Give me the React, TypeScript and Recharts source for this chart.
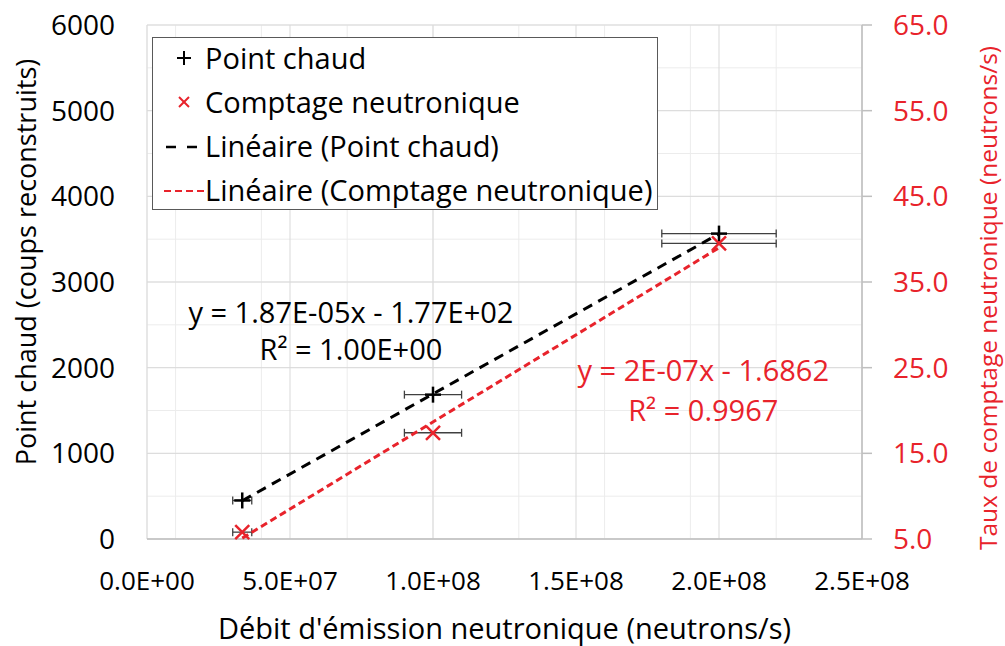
import React from 'react';
import {
  ScatterChart, Scatter, XAxis, YAxis, CartesianGrid, ErrorBar, Legend, ReferenceDot, Label,
} from 'recharts';

// Calibri is not installed, Open Sans is the nearest humanist sans we have.
const FONT = '"Open Sans", "DejaVu Sans", sans-serif';
const RED = '#e8232b';
const AXIS_GREY = '#bfbfbf';
const TEXT_SIZE = 29;

// measured points (x = débit d'émission, neutrons/s)
const emission = [3.33e7, 1.0e8, 2.0e8];
const emissionErr = [3.33e6, 1.0e7, 2.0e7];
const hotSpot = [450, 1685, 3565];          // left axis, coups reconstruits
const neutronCount = [5.8, 17.4, 39.5];     // right axis, neutrons/s

// Excel trendlines, drawn across the measured x range
const trendX = [3.33e7, 2.0e8];
const trendHot = [446, 3563];
const trendCount = [5.1, 39.0];

const xTicks = [0, 5e7, 1e8, 1.5e8, 2e8, 2.5e8];
const xTickLabels = ['0.0E+00', '5.0E+07', '1.0E+08', '1.5E+08', '2.0E+08', '2.5E+08'];
const leftTicks = [0, 1000, 2000, 3000, 4000, 5000, 6000];
const rightTicks = [5, 15, 25, 35, 45, 55, 65];
const xMinorTicks = Array.from({ length: 26 }, (_, i) => i * 1e7);
const yMinorTicks = Array.from({ length: 25 }, (_, i) => i * 250);

const legendItems = [
  { label: 'Point chaud', icon: 'plus' },
  { label: 'Comptage neutronique', icon: 'cross' },
  { label: 'Linéaire (Point chaud)', icon: 'blackDash' },
  { label: 'Linéaire (Comptage neutronique)', icon: 'redDash' },
];

const hotData = emission.map((x, i) => ({ x, y: hotSpot[i], err: emissionErr[i] }));
const countData = emission.map((x, i) => ({ x, y: neutronCount[i], err: emissionErr[i] }));
const hotTrend = trendX.map((x, i) => ({ x, y: trendHot[i] }));
const countTrend = trendX.map((x, i) => ({ x, y: trendCount[i] }));

function PlusMark(props: any) {
  const { cx, cy } = props;
  return (
    <g stroke="#000" strokeWidth={2.5}>
      <line x1={cx - 8} y1={cy} x2={cx + 8} y2={cy} />
      <line x1={cx} y1={cy - 8} x2={cx} y2={cy + 8} />
    </g>
  );
}

function CrossMark(props: any) {
  const { cx, cy } = props;
  return (
    <g stroke={RED} strokeWidth={2.5}>
      <line x1={cx - 7} y1={cy - 7} x2={cx + 7} y2={cy + 7} />
      <line x1={cx - 7} y1={cy + 7} x2={cx + 7} y2={cy - 7} />
    </g>
  );
}

const NoMark = () => <g />;

function LegendIcon({ kind }: { kind: string }) {
  return (
    <svg width={52} height={44} style={{ display: 'block', flex: 'none' }}>
      {kind === 'plus' && (
        <g stroke="#000" strokeWidth={2}>
          <line x1={24} y1={22} x2={38} y2={22} />
          <line x1={31} y1={15} x2={31} y2={29} />
        </g>
      )}
      {kind === 'cross' && (
        <g stroke={RED} strokeWidth={2}>
          <line x1={26} y1={17} x2={36} y2={27} />
          <line x1={26} y1={27} x2={36} y2={17} />
        </g>
      )}
      {kind === 'blackDash' && (
        <line x1={13} y1={23} x2={46} y2={23} stroke="#000" strokeWidth={2.5} strokeDasharray="10 11" />
      )}
      {kind === 'redDash' && (
        <line x1={11} y1={23} x2={52} y2={23} stroke={RED} strokeWidth={2} strokeDasharray="7 4" />
      )}
    </svg>
  );
}

function LegendBox() {
  return (
    <div style={{
      width: 504, height: 171, border: '1px solid #595959', background: '#fff',
      fontFamily: FONT, fontSize: TEXT_SIZE, color: '#000', boxSizing: 'content-box', overflow: 'hidden',
    }}>
      {legendItems.map(it => (
        <div key={it.label} style={{ display: 'flex', alignItems: 'center', height: 44, marginTop: it.icon === 'plus' ? -2 : 0 }}>
          <LegendIcon kind={it.icon} />
          <span style={{ whiteSpace: 'nowrap', lineHeight: '44px' }}>{it.label}</span>
        </div>
      ))}
    </div>
  );
}

function rotatedTitle(text: string, color: string, size: number, dx: number, dy: number) {
  return (props: any) => {
    const vb = props.viewBox || {};
    const x = vb.x + dx;
    const y = vb.y + vb.height / 2 + dy;
    return (
      <text x={x} y={y} transform={`rotate(-90, ${x}, ${y})`} textAnchor="middle" dominantBaseline="central"
        fill={color} fontFamily={FONT} fontSize={size}>
        {text}
      </text>
    );
  };
}

export default function App() {
  return (
    <div style={{ position: 'absolute', left: 0, top: 0, width: 1005, height: 646, background: '#fff' }}>
      <ScatterChart width={1005} height={646} margin={{ top: 25, right: 0, bottom: 0, left: 0 }}>
        <CartesianGrid xAxisId="xMinor" yAxisId="yMinor" stroke="#ececec" strokeWidth={1} />
        <CartesianGrid xAxisId="x" yAxisId="left" stroke="#d9d9d9" strokeWidth={1} />

        <XAxis xAxisId="xMinor" type="number" dataKey="x" domain={[0, 2.5e8]} ticks={xMinorTicks} allowDataOverflow hide />
        <YAxis yAxisId="yMinor" type="number" dataKey="y" domain={[0, 6000]} ticks={yMinorTicks} allowDataOverflow hide />

        <XAxis
          xAxisId="x" type="number" dataKey="x" domain={[0, 2.5e8]} ticks={xTicks} interval={0}
          height={107} tickLine={false} tickSize={0} tickMargin={33}
          axisLine={{ stroke: AXIS_GREY, strokeWidth: 1.5 }}
          tick={{ fill: '#000', fontFamily: FONT, fontSize: 26 }}
          tickFormatter={(v: number) => xTickLabels[xTicks.indexOf(v)] ?? ''}
        >
          <Label
            content={(props: any) => {
              const vb = props.viewBox || {};
              return (
                <text x={vb.x + vb.width / 2} y={627} textAnchor="middle" dominantBaseline="central"
                  fill="#000" fontFamily={FONT} fontSize={TEXT_SIZE}>
                  Débit d'émission neutronique (neutrons/s)
                </text>
              );
            }}
          />
        </XAxis>

        <YAxis
          yAxisId="left" type="number" dataKey="y" domain={[0, 6000]} ticks={leftTicks} interval={0}
          width={147} axisLine={false} tickLine={false} tickSize={0} tickMargin={32}
          tick={{ fill: '#000', fontFamily: FONT, fontSize: 28 }}
        >
          <Label content={rotatedTitle('Point chaud (coups reconstruits)', '#000', 27, 25, -20)} />
        </YAxis>

        <YAxis
          yAxisId="right" orientation="right" type="number" dataKey="y" domain={[5, 65]} ticks={rightTicks} interval={0}
          width={143} axisLine={{ stroke: AXIS_GREY, strokeWidth: 1.5 }}
          tickLine={{ stroke: AXIS_GREY, strokeWidth: 1.5 }} tickSize={10} tickMargin={21}
          tick={{ fill: RED, fontFamily: FONT, fontSize: 28 }}
          tickFormatter={(v: number) => v.toFixed(1)}
        >
          <Label content={rotatedTitle('Taux de comptage neutronique (neutrons/s)', RED, 24.5, 125, 16)} />
        </YAxis>

        <Scatter
          name="Linéaire (Point chaud)" data={hotTrend} xAxisId="x" yAxisId="left"
          line={{ stroke: '#000', strokeWidth: 3, strokeDasharray: '10 7' }} shape={NoMark}
          isAnimationActive={false} legendType="none"
        />
        <Scatter
          name="Linéaire (Comptage neutronique)" data={countTrend} xAxisId="x" yAxisId="right"
          line={{ stroke: RED, strokeWidth: 3, strokeDasharray: '7 4' }} shape={NoMark}
          isAnimationActive={false} legendType="none"
        />

        <Scatter name="Point chaud" data={hotData} xAxisId="x" yAxisId="left" shape={PlusMark} isAnimationActive={false}>
          <ErrorBar dataKey="err" direction="x" stroke="#404040" strokeWidth={1.3} width={4} isAnimationActive={false} />
        </Scatter>
        <Scatter name="Comptage neutronique" data={countData} xAxisId="x" yAxisId="right" shape={CrossMark} isAnimationActive={false}>
          <ErrorBar dataKey="err" direction="x" stroke="#404040" strokeWidth={1.3} width={4} isAnimationActive={false} />
        </Scatter>

        <ReferenceDot xAxisId="x" yAxisId="left" x={7.13e7} y={2640} r={0} fill="none" stroke="none"
          label={{ value: 'y = 1.87E-05x - 1.77E+02', position: 'center', fill: '#000', fontFamily: FONT, fontSize: TEXT_SIZE }} />
        <ReferenceDot xAxisId="x" yAxisId="left" x={7.13e7} y={2205} r={0} fill="none" stroke="none"
          label={{ value: 'R² = 1.00E+00', position: 'center', fill: '#000', fontFamily: FONT, fontSize: TEXT_SIZE }} />
        <ReferenceDot xAxisId="x" yAxisId="right" x={1.945e8} y={24.65} r={0} fill="none" stroke="none"
          label={{ value: 'y = 2E-07x - 1.6862', position: 'center', fill: RED, fontFamily: FONT, fontSize: TEXT_SIZE }} />
        <ReferenceDot xAxisId="x" yAxisId="right" x={1.945e8} y={20.0} r={0} fill="none" stroke="none"
          label={{ value: 'R² = 0.9967', position: 'center', fill: RED, fontFamily: FONT, fontSize: TEXT_SIZE }} />

        <Legend
          layout="vertical" align="center" verticalAlign="middle"
          wrapperStyle={{ left: 152, top: 37, width: 506 }}
          content={() => <LegendBox />}
        />
      </ScatterChart>
    </div>
  );
}
